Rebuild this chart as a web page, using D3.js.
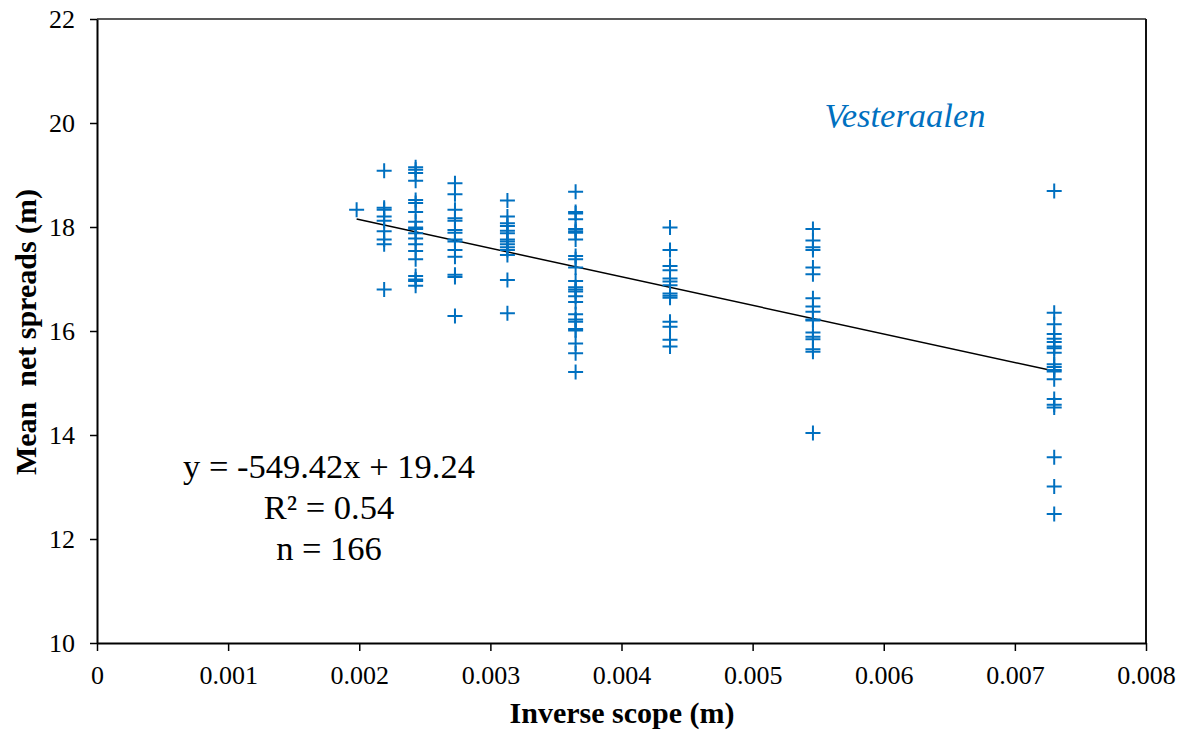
<!DOCTYPE html>
<html>
<head>
<meta charset="utf-8">
<script src="https://cdn.jsdelivr.net/npm/d3@7"></script>
<style>
  body { margin: 0; background: #fff; }
</style>
</head>
<body>
<div id="chart"></div>
<script>
// scope values (x) of the sample columns
const colX = [0.00198, 0.00219, 0.00243, 0.00273, 0.00313, 0.00365, 0.00437, 0.00546, 0.0073];

// mean net spreads per column
const col1 = [18.33];
const col2 = [19.08, 18.37, 18.33, 18.20, 18.12, 17.92, 17.76, 17.67, 16.80];
const col3 = [19.15, 19.10, 19.04, 18.89, 18.52, 18.46, 18.29, 18.10, 17.99, 17.96, 17.88, 17.78,
              17.67, 17.54, 17.38, 17.06, 16.99, 16.96, 16.87];
const col4 = [18.84, 18.63, 18.33, 18.17, 18.12, 17.94, 17.89, 17.76, 17.72, 17.56, 17.43, 17.08,
              17.04, 16.29];
const col5 = [18.51, 18.20, 18.07, 18.02, 17.93, 17.88, 17.76, 17.72, 17.67, 17.61, 17.56, 17.46,
              16.98, 16.34];
const col6 = [18.68, 18.29, 18.26, 18.15, 17.96, 17.92, 17.89, 17.76, 17.44, 17.38, 17.22, 16.96,
              16.84, 16.80, 16.76, 16.67, 16.56, 16.32, 16.22, 16.18, 16.04, 16.01, 15.76, 15.57, 15.21];
const col7 = [17.99, 17.56, 17.25, 17.17, 17.01, 16.95, 16.88, 16.72, 16.68, 16.64, 16.18, 16.08,
              15.83, 15.70];
const col8 = [17.96, 17.74, 17.61, 17.56, 17.22, 17.09, 16.63, 16.47, 16.37, 16.22, 16.20, 15.97,
              15.89, 15.84, 15.65, 15.60, 14.04];
const col9 = [18.69, 16.35, 16.13, 15.94, 15.85, 15.79, 15.70, 15.67, 15.58, 15.36, 15.31, 15.25,
              15.22, 15.07, 14.69, 14.58, 14.53, 13.57, 13.01, 12.48];
const colY = [col1, col2, col3, col4, col5, col6, col7, col8, col9];

// linear fit shown on the chart
const slope = -549.42, intercept = 19.24;
const fitRange = [0.00198, 0.0073];
const eqLines = ["y = -549.42x + 19.24", "R² = 0.54", "n = 166"];

const xTicks = [0, 0.001, 0.002, 0.003, 0.004, 0.005, 0.006, 0.007, 0.008];
const yTicks = [10, 12, 14, 16, 18, 20, 22];

const FONT = "'Liberation Serif', Tinos, 'Times New Roman', 'DejaVu Serif', serif";

const W = 1185, H = 734;
const margin = {top: 19, right: 39, bottom: 91, left: 97};
const width = W - margin.left - margin.right,
      height = H - margin.top - margin.bottom;

const points = [];
colX.forEach((x, i) => colY[i].forEach(v => points.push([x, v])));

const svg = d3.select("#chart").append("svg")
    .attr("width", W).attr("height", H)
    .attr("font-family", FONT);
const g = svg.append("g").attr("transform", `translate(${margin.left},${margin.top})`);

const xx = d3.scaleLinear().domain([0, 0.008]).range([0, width]);
const yy = d3.scaleLinear().domain([10, 22]).range([height, 0]);

// frame (top + right)
g.append("line").attr("x1", 0).attr("x2", width).attr("y1", 0).attr("y2", 0)
    .attr("stroke", "#222").attr("stroke-width", 1.5);
g.append("line").attr("x1", width).attr("x2", width).attr("y1", 0).attr("y2", height)
    .attr("stroke", "#111").attr("stroke-width", 2);

// axes
const xAxis = g.append("g").attr("transform", `translate(0,${height})`)
    .call(d3.axisBottom(xx).tickValues(xTicks).tickSize(8).tickSizeOuter(0)
        .tickFormat(d => d === 0 ? "0" : d3.format(".3f")(d)));
const yAxis = g.append("g")
    .call(d3.axisLeft(yy).tickValues(yTicks).tickSize(7).tickSizeOuter(0));

[xAxis, yAxis].forEach(a => {
    a.attr("font-family", FONT);
    a.select(".domain").attr("stroke", "#000").attr("stroke-width", 2);
    a.selectAll(".tick line").attr("stroke", "#000").attr("stroke-width", 1.5);
    a.selectAll(".tick text").attr("font-size", 26).attr("fill", "#000");
});
xAxis.selectAll(".tick text").attr("y", 41).attr("dy", 0);
yAxis.selectAll(".tick text").attr("x", -22).attr("dy", "0.34em");

// trend line
g.append("line")
    .attr("x1", xx(fitRange[0])).attr("y1", yy(slope * fitRange[0] + intercept))
    .attr("x2", xx(fitRange[1])).attr("y2", yy(slope * fitRange[1] + intercept))
    .attr("stroke", "#000").attr("stroke-width", 1.5);

// plus markers
const s = 7.5;
g.append("g").selectAll("path").data(points).join("path")
    .attr("d", d => `M${xx(d[0]) - s},${yy(d[1])}H${xx(d[0]) + s}M${xx(d[0])},${yy(d[1]) - s}V${yy(d[1]) + s}`)
    .attr("stroke", "#0070C0").attr("stroke-width", 2).attr("fill", "none");

// equation
g.append("g").selectAll("text").data(eqLines).join("text")
    .attr("x", 232).attr("y", (d, i) => 459 + i * 41)
    .attr("text-anchor", "middle").attr("font-size", 34.5).attr("fill", "#000")
    .text(d => d);

// region label
g.append("text").attr("x", 808).attr("y", 108)
    .attr("text-anchor", "middle").attr("font-size", 34.5).attr("font-style", "italic")
    .attr("fill", "#0070C0").text("Vesteraalen");

// axis titles
svg.append("text").attr("x", 622).attr("y", 723)
    .attr("text-anchor", "middle").attr("font-size", 30).attr("font-weight", "bold")
    .text("Inverse scope (m)");
svg.append("text").attr("transform", "translate(36,332) rotate(-90)")
    .attr("text-anchor", "middle").attr("font-size", 30).attr("font-weight", "bold")
    .style("white-space", "pre").text("Mean  net spreads (m)");
</script>
</body>
</html>
